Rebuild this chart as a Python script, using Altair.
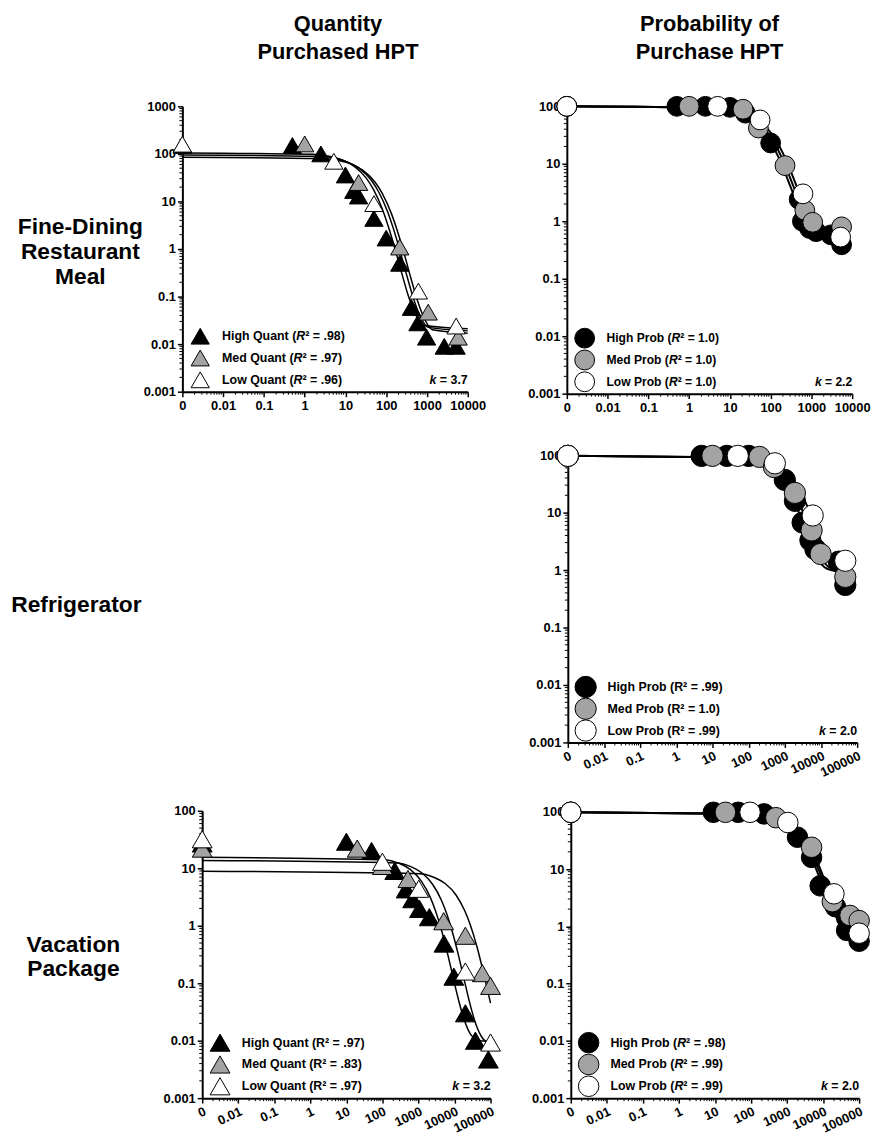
import altair as alt
import pandas as pd

# ---------------- data ----------------
ZERO = 0.001  # the broken-axis "0" position on every log x axis

GROUPS = ["High", "Med", "Low"]
COL_TITLES = [["Quantity", "Purchased HPT"], ["Probability of", "Purchase HPT"]]
ROW_LABELS = [["Fine-Dining", "Restaurant", "Meal"], ["Refrigerator"], ["Vacation", "Package"]]

# Fine-Dining Restaurant Meal - quantity purchased
FDQ_HIGH_X = [ZERO, 0.5, 2.5, 10, 16, 21, 50, 100, 215, 415, 600, 980, 2650, 5200]
FDQ_HIGH_Y = [150, 150, 100, 36, 17, 13, 4.4, 1.7, 0.5, 0.059, 0.028, 0.014, 0.009, 0.009]
FDQ_MED_X = [ZERO, 1, 21, 215, 1070, 5800]
FDQ_MED_Y = [155, 162, 25, 1.1, 0.047, 0.014]
FDQ_LOW_X = [ZERO, 5.2, 50, 615, 5200]
FDQ_LOW_Y = [160, 70, 9, 0.13, 0.024]
FDQ_FIT_HIGH_X = [ZERO, 1.62, 4.86, 8.1, 16.2, 32.4, 48.6, 81, 113, 162, 243, 347, 486, 810, 10000]
FDQ_FIT_HIGH_Y = [105, 98.3, 86.3, 75.9, 55.5, 30.9, 17.9, 6.77, 2.93, 1.05, 0.30, 0.105, 0.048, 0.025, 0.021]
FDQ_FIT_MED_X = [ZERO, 2.15, 6.45, 10.75, 21.5, 43, 64.5, 107.5, 150.5, 215, 322.5, 460, 645, 1075, 10000]
FDQ_FIT_MED_Y = [95, 88.9, 78.1, 68.7, 50.3, 27.9, 16.2, 6.13, 2.65, 0.95, 0.27, 0.095, 0.043, 0.0225, 0.019]
FDQ_FIT_LOW_X = [ZERO, 2.7, 8.1, 13.5, 27, 54, 81, 135, 189, 270, 405, 578, 810, 1350, 10000]
FDQ_FIT_LOW_Y = [85, 79.6, 69.9, 61.5, 45, 25, 14.5, 5.48, 2.37, 0.85, 0.24, 0.085, 0.039, 0.020, 0.017]

# Fine-Dining Restaurant Meal - probability of purchase
FDP_HIGH_X = [ZERO, 0.5, 2.5, 10, 24, 100, 500, 600, 900, 1300, 3000, 5500]
FDP_HIGH_Y = [100, 100, 100, 96, 76, 23, 2.4, 1.0, 0.75, 0.66, 0.58, 0.39]
FDP_MED_X = [ZERO, 1, 21, 50, 225, 690, 1075, 5500]
FDP_MED_Y = [100, 100, 89, 42, 9.3, 1.55, 0.96, 0.8]
FDP_LOW_X = [ZERO, 5, 55, 620, 5200]
FDP_LOW_Y = [100, 100, 58, 3.0, 0.53]
FDP_FIT_HIGH_X = [ZERO, 4.2, 10.5, 21, 42, 73.5, 105, 157.5, 210, 315, 420, 630, 1050, 2100, 5500]
FDP_FIT_HIGH_Y = [100, 93.3, 84.1, 71.2, 51.9, 33.6, 22.6, 12.8, 7.94, 3.8, 2.24, 1.19, 0.74, 0.63, 0.63]
FDP_FIT_MED_X = [ZERO, 5, 12.5, 25, 50, 87.5, 125, 187.5, 250, 375, 500, 750, 1250, 2500, 5500]
FDP_FIT_MED_Y = [100, 93.3, 84.1, 71.2, 51.9, 33.6, 22.6, 12.8, 7.94, 3.8, 2.24, 1.19, 0.74, 0.63, 0.63]
FDP_FIT_LOW_X = [ZERO, 6, 15, 30, 60, 105, 150, 225, 300, 450, 600, 900, 1500, 3000, 5500]
FDP_FIT_LOW_Y = [100, 93.3, 84.1, 71.2, 51.9, 33.6, 22.6, 12.8, 7.94, 3.8, 2.24, 1.19, 0.74, 0.63, 0.63]

# Refrigerator - probability of purchase
RFP_HIGH_X = [ZERO, 5, 25, 100, 1000, 1900, 3100, 5100, 7000, 31000, 47000]
RFP_HIGH_Y = [97, 97, 97, 97, 37, 16, 6.7, 3.3, 2.3, 1.4, 0.55]
RFP_MED_X = [ZERO, 10, 200, 500, 1900, 5500, 9800, 47000]
RFP_MED_Y = [97, 97, 93, 62, 22, 4.9, 1.9, 0.76]
RFP_LOW_X = [ZERO, 50, 530, 5900, 47000]
RFP_LOW_Y = [97, 97, 72, 8.9, 1.45]
RFP_FIT_HIGH_X = [ZERO, 50, 125, 250, 500, 875, 1250, 1875, 2500, 3750, 5000, 7500, 12500, 25000, 50000]
RFP_FIT_HIGH_Y = [97, 91, 82.9, 71.2, 53.5, 36.1, 25.1, 15.0, 9.7, 4.95, 3.07, 1.73, 1.12, 0.97, 0.97]
RFP_FIT_MED_X = [ZERO, 66, 165, 330, 660, 1155, 1650, 2475, 3300, 4950, 6600, 9900, 16500, 33000, 50000]
RFP_FIT_MED_Y = [97, 91, 82.9, 71.2, 53.5, 36.1, 25.1, 15.0, 9.7, 4.95, 3.07, 1.73, 1.12, 0.97, 0.97]
RFP_FIT_LOW_X = [ZERO, 100, 250, 500, 1000, 1750, 2500, 3750, 5000, 7500, 10000, 15000, 25000, 50000]
RFP_FIT_LOW_Y = [97, 91, 82.9, 71.2, 53.5, 36.1, 25.1, 15.0, 9.7, 4.95, 3.07, 1.73, 1.12, 0.97]

# Vacation Package - quantity purchased
VCQ_HIGH_X = [ZERO, 10, 50, 220, 455, 690, 1070, 2000, 5100, 9600, 20000, 38000, 87000]
VCQ_HIGH_Y = [27, 29, 20, 9, 4.3, 2.9, 1.96, 1.41, 0.49, 0.13, 0.03, 0.01, 0.0047]
VCQ_MED_X = [ZERO, 20, 100, 510, 5000, 20000, 59000, 100000]
VCQ_MED_Y = [22, 22, 11, 6.5, 1.2, 0.67, 0.15, 0.09]
VCQ_LOW_X = [ZERO, 100, 1020, 20000, 100000]
VCQ_LOW_Y = [32, 13, 4.4, 0.16, 0.0093]
VCQ_FIT_HIGH_X = [ZERO, 120, 300, 600, 1200, 2100, 3000, 4500, 6000, 9000, 12000, 18000, 30000, 60000, 100000]
VCQ_FIT_HIGH_Y = [15.5, 14.0, 12.1, 9.46, 5.97, 3.18, 1.79, 0.78, 0.389, 0.133, 0.0617, 0.0245, 0.0122, 0.00986, 0.0098]
VCQ_FIT_MED_X = [ZERO, 1100, 2750, 5500, 11000, 19250, 27500, 41250, 55000, 82500, 100000]
VCQ_FIT_MED_Y = [8.9, 8.05, 6.92, 5.43, 3.43, 1.82, 1.03, 0.449, 0.223, 0.076, 0.045]
VCQ_FIT_LOW_X = [ZERO, 246, 615, 1230, 2460, 4305, 6150, 9225, 12300, 18450, 24600, 36900, 61500, 100000]
VCQ_FIT_LOW_Y = [13.7, 12.4, 10.7, 8.36, 5.27, 2.81, 1.58, 0.69, 0.344, 0.117, 0.0545, 0.0216, 0.0108, 0.0088]

# Vacation Package - probability of purchase
VCP_HIGH_X = [ZERO, 9, 44, 230, 1950, 4800, 8300, 22000, 45000, 45000, 100000]
VCP_HIGH_Y = [98, 98, 98, 92, 36, 16, 5.1, 2.2, 1.4, 0.85, 0.55]
VCP_MED_X = [ZERO, 19.5, 490, 4800, 18000, 56000, 100000]
VCP_MED_Y = [98, 98, 79, 24, 2.7, 1.55, 1.26]
VCP_LOW_X = [ZERO, 94, 1050, 20000, 100000]
VCP_LOW_Y = [98, 98, 65, 3.7, 0.76]
VCP_FIT_HIGH_X = [ZERO, 130, 325, 650, 1300, 2275, 3250, 4875, 6500, 9750, 13000, 19500, 32500, 65000, 100000]
VCP_FIT_HIGH_Y = [98, 91.9, 83.8, 71.9, 54.1, 36.5, 25.4, 15.2, 9.8, 5.0, 3.1, 1.74, 1.13, 0.98, 0.98]
VCP_FIT_MED_X = [ZERO, 150, 375, 750, 1500, 2625, 3750, 5625, 7500, 11250, 15000, 22500, 37500, 75000, 100000]
VCP_FIT_MED_Y = [98, 91.9, 83.8, 71.9, 54.1, 36.5, 25.4, 15.2, 9.8, 5.0, 3.1, 1.74, 1.13, 0.98, 0.98]
VCP_FIT_LOW_X = [ZERO, 170, 425, 850, 1700, 2975, 4250, 6375, 8500, 12750, 17000, 25500, 42500, 85000, 100000]
VCP_FIT_LOW_Y = [98, 91.9, 83.8, 71.9, 54.1, 36.5, 25.4, 15.2, 9.8, 5.0, 3.1, 1.74, 1.13, 0.98, 0.98]

# ---------------- layout / style ----------------
PAGE = 8
W, H = 873, 1126
FONT = "Liberation Sans"
GRAY = "#a3a3a3"
FILLS = ["#000000", GRAY, "#ffffff"]

# Liberation Sans Bold advance widths (1/1000 em), for placing the italic R / k
WID = {' ': 278, '(': 333, ')': 333, '.': 278, '=': 584, 'H': 722, 'i': 278, 'g': 611,
       'h': 611, 'Q': 778, 'u': 611, 'a': 556, 'n': 611, 't': 333, 'M': 833, 'e': 556,
       'd': 611, 'L': 611, 'o': 611, 'w': 778, 'P': 667, 'r': 389, 'b': 611, 'R': 722,
       'k': 556, '\u00b2': 333}


def tw(s, size):
    return sum(WID.get(c, 556) for c in s) * size / 1000.0


PANELS = [
    dict(left=184, right=472, top=100, bottom=388, xexp=(-3, 4), yexp=(-3, 3), rot=False,
         shape="triangle-up", size=340, kind="Quant", r2=[".98", ".97", ".96"], italic=True,
         k="3.7", fs=12.5, lw=1.5,
         pts=[(FDQ_HIGH_X, FDQ_HIGH_Y), (FDQ_MED_X, FDQ_MED_Y), (FDQ_LOW_X, FDQ_LOW_Y)],
         fits=[(FDQ_FIT_HIGH_X, FDQ_FIT_HIGH_Y), (FDQ_FIT_MED_X, FDQ_FIT_MED_Y), (FDQ_FIT_LOW_X, FDQ_FIT_LOW_Y)]),
    dict(left=572, right=860, top=100, bottom=390, xexp=(-3, 4), yexp=(-3, 2), rot=False,
         shape="circle", size=400, kind="Prob", r2=["1.0", "1.0", "1.0"], italic=True,
         k="2.2", fs=12.2, lw=2,
         pts=[(FDP_HIGH_X, FDP_HIGH_Y), (FDP_MED_X, FDP_MED_Y), (FDP_LOW_X, FDP_LOW_Y)],
         fits=[(FDP_FIT_HIGH_X, FDP_FIT_HIGH_Y), (FDP_FIT_MED_X, FDP_FIT_MED_Y), (FDP_FIT_LOW_X, FDP_FIT_LOW_Y)]),
    dict(left=573, right=865, top=452, bottom=742, xexp=(-3, 5), yexp=(-3, 2), rot=True,
         shape="circle", size=460, kind="Prob", r2=[".99", "1.0", ".99"], italic=False,
         k="2.0", fs=12.5, lw=2,
         pts=[(RFP_HIGH_X, RFP_HIGH_Y), (RFP_MED_X, RFP_MED_Y), (RFP_LOW_X, RFP_LOW_Y)],
         fits=[(RFP_FIT_HIGH_X, RFP_FIT_HIGH_Y), (RFP_FIT_MED_X, RFP_FIT_MED_Y), (RFP_FIT_LOW_X, RFP_FIT_LOW_Y)]),
    dict(left=204, right=495, top=811, bottom=1101, xexp=(-3, 5), yexp=(-3, 2), rot=True,
         shape="triangle-up", size=400, kind="Quant", r2=[".97", ".83", ".97"], italic=False,
         k="3.2", fs=12.5, lw=1.5,
         pts=[(VCQ_HIGH_X, VCQ_HIGH_Y), (VCQ_MED_X, VCQ_MED_Y), (VCQ_LOW_X, VCQ_LOW_Y)],
         fits=[(VCQ_FIT_HIGH_X, VCQ_FIT_HIGH_Y), (VCQ_FIT_MED_X, VCQ_FIT_MED_Y), (VCQ_FIT_LOW_X, VCQ_FIT_LOW_Y)]),
    dict(left=576, right=867, top=812, bottom=1101, xexp=(-3, 5), yexp=(-3, 2), rot=True,
         shape="circle", size=430, kind="Prob", r2=[".98", ".99", ".99"], italic=True,
         k="2.0", fs=12.5, lw=2,
         pts=[(VCP_HIGH_X, VCP_HIGH_Y), (VCP_MED_X, VCP_MED_Y), (VCP_LOW_X, VCP_LOW_Y)],
         fits=[(VCP_FIT_HIGH_X, VCP_FIT_HIGH_Y), (VCP_FIT_MED_X, VCP_FIT_MED_Y), (VCP_FIT_LOW_X, VCP_FIT_LOW_Y)]),
]

LEG_DY = [56, 34, 12]
LEG_SYM_DX = 18
LEG_TXT_DX = 40


def text_layer(s, x, y, size, align="left", style="normal", font=FONT, baseline="middle"):
    return alt.Chart(pd.DataFrame({"t": [s]})).mark_text(
        font=font, fontSize=size, fontWeight="bold", fontStyle=style, align=align,
        baseline=baseline, color="black"
    ).encode(x=alt.value(x), y=alt.value(y), text="t:N")


def build_panel(cfg):
    L, R = cfg["left"] - PAGE, cfg["right"] - PAGE
    T, B = cfg["top"] - PAGE, cfg["bottom"] - PAGE
    xlo, xhi = cfg["xexp"]
    ylo, yhi = cfg["yexp"]
    xs = alt.Scale(type="log", domain=[10.0 ** xlo, 10.0 ** xhi], range=[L, R], nice=False)
    ys = alt.Scale(type="log", domain=[10.0 ** ylo, 10.0 ** yhi], range=[B, T], nice=False)
    xmaj = [10.0 ** e for e in range(xlo, xhi + 1)]
    ymaj = [10.0 ** e for e in range(ylo, yhi + 1)]
    xmin = [m * 10.0 ** e for e in range(xlo, xhi) for m in range(2, 10)]
    ymin = [m * 10.0 ** e for e in range(ylo, yhi) for m in range(2, 10)]
    xkw = dict(orient="bottom", offset=B - H, values=xmaj, format="~g",
               labelExpr="datum.value < 0.0015 ? '0' : datum.label",
               title=None, grid=False, labelOverlap=False, labelFlush=False, labelPadding=3)
    if cfg["rot"]:
        xkw.update(labelAngle=335, labelAlign="right", labelBaseline="top", labelPadding=2)
    xaxis = alt.Axis(**xkw)
    yaxis = alt.Axis(orient="left", offset=-L, values=ymaj, format="~g", title=None,
                     grid=False, labelOverlap=False, labelFlush=False, labelPadding=2)
    X = lambda f="x": alt.X(f"{f}:Q", scale=xs, axis=xaxis)
    Y = lambda f="y": alt.Y(f"{f}:Q", scale=ys, axis=yaxis)

    layers = []
    fit_rows = []
    for g, (fx, fy) in zip(GROUPS, cfg["fits"]):
        fit_rows += [{"x": a, "y": b, "s": g} for a, b in zip(fx, fy)]
    layers.append(alt.Chart(pd.DataFrame(fit_rows)).mark_line(
        color="black", strokeWidth=cfg["lw"], interpolate="monotone"
    ).encode(x=X(), y=Y(), detail="s:N"))

    # minor ticks
    layers.append(alt.Chart(pd.DataFrame({"v": xmin})).mark_rule(color="black", strokeWidth=1).encode(
        x=X("v"), y=alt.value(B), y2=alt.value(B + 3)))
    layers.append(alt.Chart(pd.DataFrame({"v": ymin})).mark_rule(color="black", strokeWidth=1).encode(
        y=Y("v"), x=alt.value(L - 3), x2=alt.value(L)))

    for (px, py), fill in zip(cfg["pts"], FILLS):
        layers.append(alt.Chart(pd.DataFrame({"x": px, "y": py})).mark_point(
            shape=cfg["shape"], filled=True, fill=fill, stroke="black", strokeWidth=1,
            size=cfg["size"], opacity=1, fillOpacity=1
        ).encode(x=X(), y=Y()))

    # legend
    fs = cfg["fs"]
    for i, (g, fill, r2) in enumerate(zip(GROUPS, FILLS, cfg["r2"])):
        yy = B - LEG_DY[i]
        layers.append(alt.Chart(pd.DataFrame({"t": [g]})).mark_point(
            shape=cfg["shape"], filled=True, fill=fill, stroke="black", strokeWidth=1,
            size=cfg["size"], opacity=1, fillOpacity=1
        ).encode(x=alt.value(L + LEG_SYM_DX), y=alt.value(yy)))
        x0 = L + LEG_TXT_DX
        if cfg["italic"]:
            pre = f"{g} {cfg['kind']} ("
            layers.append(text_layer(pre, x0, yy, fs))
            x1 = x0 + tw(pre, fs)
            layers.append(text_layer("R", x1, yy, fs, style="italic"))
            layers.append(text_layer(f"\u00b2 = {r2})", x1 + tw("R", fs), yy, fs))
        else:
            layers.append(text_layer(f"{g} {cfg['kind']} (R\u00b2 = {r2})", x0, yy, fs))
    yy = B - LEG_DY[2]
    rest = f" = {cfg['k']}"
    layers.append(text_layer(rest, R, yy, fs, align="right"))
    layers.append(text_layer("k", R - tw(rest, fs), yy, fs, align="right", style="italic"))
    return alt.layer(*layers)


all_layers = [build_panel(c) for c in PANELS]

# column titles
for lines, cx in zip(COL_TITLES, [341, 716]):
    for j, s in enumerate(lines):
        all_layers.append(text_layer(s, cx - PAGE, 24 + 28 * j - PAGE, 22, align="center",
                                     baseline="alphabetic"))

# row labels
for lines, cx, base in zip(ROW_LABELS, [81, 77, 74], [229, 610, 953]):
    for j, s in enumerate(lines):
        all_layers.append(text_layer(s, cx - PAGE, base + 25 * j - PAGE, 23, align="center",
                                     baseline="alphabetic"))

chart = alt.layer(*all_layers).resolve_scale(
    x="independent", y="independent"
).properties(width=W, height=H, padding=0).configure_view(stroke=None).configure_axis(
    domainColor="black", domainWidth=2, tickColor="black", tickWidth=1.5, tickSize=5,
    labelFont=FONT, labelFontSize=13, labelFontWeight="bold", labelColor="black"
)

chart.save("out.html", embed_options={"renderer": "svg", "actions": False})
